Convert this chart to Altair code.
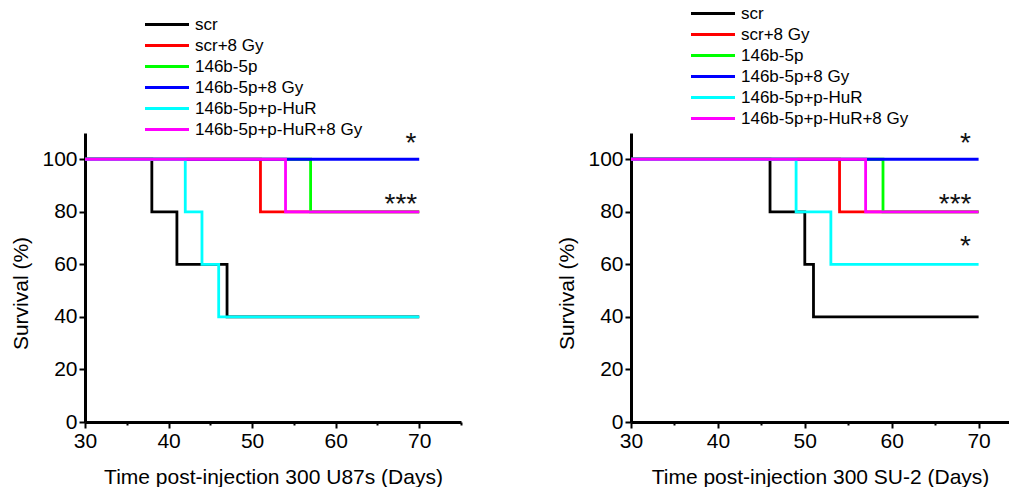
import altair as alt
import pandas as pd

groups = ["scr", "scr+8 Gy", "146b-5p", "146b-5p+8 Gy", "146b-5p+p-HuR", "146b-5p+p-HuR+8 Gy"]
colors = ["#000000", "#ff0000", "#00ff00", "#0000ff", "#00ffff", "#ff00ff"]

# Panel 1: U87s (step points: day of change, survival after change)
u87_scr_day = [30, 38, 41, 47, 70]
u87_scr_pct = [100, 80, 60, 40, 40]
u87_scr8_day = [30, 51, 70]
u87_scr8_pct = [100, 80, 80]
u87_mir_day = [30, 57, 70]
u87_mir_pct = [100, 80, 80]
u87_mir8_day = [30, 70]
u87_mir8_pct = [100, 100]
u87_hur_day = [30, 42, 44, 46, 70]
u87_hur_pct = [100, 80, 60, 40, 40]
u87_hur8_day = [30, 54, 70]
u87_hur8_pct = [100, 80, 80]

# Panel 2: SU-2
su2_scr_day = [30, 46, 50, 51, 70]
su2_scr_pct = [100, 80, 60, 40, 40]
su2_scr8_day = [30, 54, 70]
su2_scr8_pct = [100, 80, 80]
su2_mir_day = [30, 59, 70]
su2_mir_pct = [100, 80, 80]
su2_mir8_day = [30, 70]
su2_mir8_pct = [100, 100]
su2_hur_day = [30, 49, 53, 70]
su2_hur_pct = [100, 80, 60, 60]
su2_hur8_day = [30, 57, 70]
su2_hur8_pct = [100, 80, 80]

# significance marks
u87_mark_text = ["*", "***"]
u87_mark_day = [69.0, 67.8]
u87_mark_pct = [106.0, 82.6]
su2_mark_text = ["*", "***", "*"]
su2_mark_day = [68.5, 67.3, 68.5]
su2_mark_pct = [106.0, 82.6, 66.5]

FONT = "Liberation Sans"


def build(days, pcts):
    rows = []
    for g, d, p in zip(groups, days, pcts):
        for dd, pp in zip(d, p):
            rows.append({"group": g, "day": dd, "pct": pp})
    return pd.DataFrame(rows)


u87_df = build([u87_scr_day, u87_scr8_day, u87_mir_day, u87_mir8_day, u87_hur_day, u87_hur8_day],
               [u87_scr_pct, u87_scr8_pct, u87_mir_pct, u87_mir8_pct, u87_hur_pct, u87_hur8_pct])
su2_df = build([su2_scr_day, su2_scr8_day, su2_mir_day, su2_mir8_day, su2_hur_day, su2_hur8_day],
               [su2_scr_pct, su2_scr8_pct, su2_mir_pct, su2_mir8_pct, su2_hur_pct, su2_hur8_pct])
u87_marks = pd.DataFrame({"day": u87_mark_day, "pct": u87_mark_pct, "t": u87_mark_text})
su2_marks = pd.DataFrame({"day": su2_mark_day, "pct": su2_mark_pct, "t": su2_mark_text})


def panel(df, marks, xmax, width, height, xtitle, legend_y):
    xaxis = alt.Axis(
        values=[30, 35, 40, 45, 50, 55, 60, 65, 70, 75],
        labelExpr="datum.value % 10 === 0 ? datum.label : ''",
        labelOverlap=False, labelFlush=False,
        tickSize={"condition": {"test": "datum.value % 10 === 0", "value": 6}, "value": 3},
        grid=False, title=xtitle, titlePadding=15, labelPadding=2,
    )
    yaxis = alt.Axis(
        values=[0, 10, 20, 30, 40, 50, 60, 70, 80, 90, 100, 110],
        labelExpr="datum.value % 20 === 0 && datum.value <= 100 ? datum.label : ''",
        labelOverlap=False, labelFlush=False,
        tickSize={"condition": {"test": "datum.value % 20 === 0 || datum.value === 110", "value": 6}, "value": 3},
        grid=False, title="Survival (%)", titlePadding=10, labelPadding=2, titleY=160,
    )
    x = alt.X("day:Q", scale=alt.Scale(domain=[30, xmax], nice=False, zero=False), axis=xaxis)
    y = alt.Y("pct:Q", scale=alt.Scale(domain=[0, 110], nice=False), axis=yaxis)
    legend = alt.Legend(
        title=None, orient="none", legendX=57, legendY=legend_y,
        symbolType="M-1,0H7", symbolSize=121, symbolStrokeWidth=3,
        labelFontSize=17, labelFont=FONT, labelColor="black", labelOffset=36,
        rowPadding=3, labelLimit=400,
    )
    color = alt.Color("group:N", scale=alt.Scale(domain=groups, range=colors), legend=legend)
    layers = []
    for g in groups:
        layers.append(
            alt.Chart(df).transform_filter(alt.datum.group == g)
            .mark_line(interpolate="step-after", strokeWidth=2.8)
            .encode(x=x, y=y, color=color)
        )
    txt = alt.Chart(marks).mark_text(fontSize=28, font=FONT, color="#111111", baseline="middle", align="center").encode(
        x=alt.X("day:Q"), y=alt.Y("pct:Q"), text="t:N")
    return alt.layer(*layers, txt).properties(width=width, height=height)


left = panel(u87_df, u87_marks, 75, 376, 289, "Time post-injection 300 U87s (Days)", -117)
right = panel(su2_df, su2_marks, 73.5, 378, 289, "Time post-injection 300 SU-2 (Days)", -128)

chart = alt.hconcat(left, right, spacing=94).resolve_legend(color="independent").properties(
    padding={"left": 10, "top": 5, "right": 0, "bottom": 0}
).configure_view(stroke=None).configure_axis(
    domainWidth=3, domainColor="black", tickColor="black", tickWidth=2,
    labelFont=FONT, labelFontSize=21, labelColor="black",
    titleFont=FONT, titleFontSize=21, titleColor="black", titleFontWeight="normal",
)

chart.save("out.html", embed_options={"renderer": "svg", "actions": False})
